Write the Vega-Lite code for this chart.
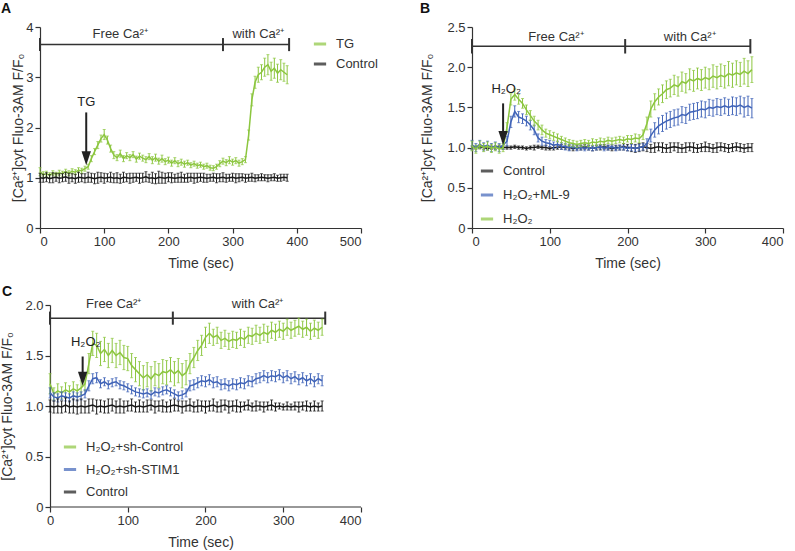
{
 "$schema": "https://vega.github.io/schema/vega-lite/v6.json",
 "padding": {"left": 0, "top": 2, "right": 2, "bottom": 2},
 "background": "white",
 "config": {
  "font": "Liberation Sans",
  "view": {"stroke": null},
  "axis": {"grid": false, "domainColor": "#333", "tickColor": "#333", "labelColor": "#333", "titleColor": "#333", "labelFontSize": 13, "titleFontSize": 14, "titleFontWeight": "normal", "tickSize": 5, "labelPadding": 2, "domainWidth": 1.2, "tickWidth": 1.2},
  "axisX": {"titlePadding": 8},
  "axisY": {"minExtent": 0},
  "title": {"fontSize": 14, "fontWeight": "bold", "color": "#111", "anchor": "start", "frame": "group"}
 },
 "datasets": {
  "A_TG": [
   {"t":0,"y":1.12,"e":0.08},{"t":5,"y":1.06,"e":0.06},{"t":10,"y":1.08,"e":0.05},{"t":15,"y":1.05,"e":0.05},{"t":20,"y":1.09,"e":0.05},{"t":25,"y":1.07,"e":0.04},{"t":30,"y":1.1,"e":0.05},{"t":35,"y":1.08,"e":0.05},{"t":40,"y":1.12,"e":0.05},{"t":45,"y":1.09,"e":0.05},{"t":50,"y":1.13,"e":0.05},{"t":55,"y":1.11,"e":0.05},{"t":60,"y":1.15,"e":0.05},{"t":65,"y":1.14,"e":0.05},{"t":70,"y":1.18,"e":0.05},{"t":75,"y":1.22,"e":0.05},{"t":80,"y":1.38,"e":0.06},{"t":85,"y":1.52,"e":0.06},{"t":90,"y":1.65,"e":0.07},{"t":95,"y":1.78,"e":0.07},{"t":100,"y":1.86,"e":0.1},{"t":105,"y":1.75,"e":0.08},{"t":110,"y":1.58,"e":0.07},{"t":115,"y":1.45,"e":0.07},{"t":120,"y":1.4,"e":0.06},{"t":125,"y":1.48,"e":0.07},{"t":130,"y":1.38,"e":0.06},{"t":135,"y":1.44,"e":0.06},{"t":140,"y":1.4,"e":0.06},{"t":145,"y":1.46,"e":0.06},{"t":150,"y":1.37,"e":0.06},{"t":155,"y":1.43,"e":0.06},{"t":160,"y":1.39,"e":0.06},{"t":165,"y":1.36,"e":0.06},{"t":170,"y":1.42,"e":0.06},{"t":175,"y":1.35,"e":0.07},{"t":180,"y":1.4,"e":0.07},{"t":185,"y":1.33,"e":0.06},{"t":190,"y":1.38,"e":0.07},{"t":195,"y":1.32,"e":0.06},{"t":200,"y":1.35,"e":0.06},{"t":205,"y":1.29,"e":0.06},{"t":210,"y":1.34,"e":0.06},{"t":215,"y":1.28,"e":0.06},{"t":220,"y":1.31,"e":0.06},{"t":225,"y":1.27,"e":0.06},{"t":230,"y":1.3,"e":0.05},{"t":235,"y":1.25,"e":0.05},{"t":240,"y":1.28,"e":0.05},{"t":245,"y":1.24,"e":0.05},{"t":250,"y":1.26,"e":0.05},{"t":255,"y":1.22,"e":0.05},{"t":260,"y":1.24,"e":0.05},{"t":265,"y":1.2,"e":0.05},{"t":270,"y":1.19,"e":0.05},{"t":275,"y":1.22,"e":0.05},{"t":280,"y":1.28,"e":0.06},{"t":285,"y":1.33,"e":0.06},{"t":290,"y":1.3,"e":0.06},{"t":295,"y":1.35,"e":0.07},{"t":300,"y":1.31,"e":0.06},{"t":305,"y":1.34,"e":0.06},{"t":310,"y":1.29,"e":0.06},{"t":315,"y":1.32,"e":0.06},{"t":320,"y":1.36,"e":0.06},{"t":325,"y":1.85,"e":0.1},{"t":330,"y":2.55,"e":0.12},{"t":335,"y":2.9,"e":0.12},{"t":340,"y":3.05,"e":0.15},{"t":345,"y":3.1,"e":0.15},{"t":350,"y":3.2,"e":0.18},{"t":355,"y":3.25,"e":0.2},{"t":360,"y":3.12,"e":0.18},{"t":365,"y":3.18,"e":0.2},{"t":370,"y":3.08,"e":0.18},{"t":375,"y":3.15,"e":0.2},{"t":380,"y":3.1,"e":0.18},{"t":385,"y":3.05,"e":0.18}
  ],
  "A_C": [
   {"t":0,"y":1.0,"e":0.09},{"t":5,"y":0.99,"e":0.08},{"t":10,"y":1.01,"e":0.09},{"t":15,"y":0.98,"e":0.08},{"t":20,"y":1.0,"e":0.1},{"t":25,"y":1.01,"e":0.08},{"t":30,"y":0.99,"e":0.09},{"t":35,"y":1.0,"e":0.08},{"t":40,"y":1.02,"e":0.09},{"t":45,"y":0.99,"e":0.1},{"t":50,"y":1.0,"e":0.08},{"t":55,"y":0.98,"e":0.09},{"t":60,"y":1.01,"e":0.1},{"t":65,"y":1.0,"e":0.08},{"t":70,"y":0.99,"e":0.09},{"t":75,"y":1.01,"e":0.1},{"t":80,"y":1.0,"e":0.09},{"t":85,"y":0.98,"e":0.1},{"t":90,"y":1.0,"e":0.11},{"t":95,"y":1.01,"e":0.09},{"t":100,"y":0.99,"e":0.1},{"t":105,"y":1.0,"e":0.08},{"t":110,"y":1.01,"e":0.1},{"t":115,"y":0.99,"e":0.09},{"t":120,"y":1.0,"e":0.1},{"t":125,"y":0.98,"e":0.09},{"t":130,"y":1.01,"e":0.1},{"t":135,"y":1.0,"e":0.08},{"t":140,"y":0.99,"e":0.1},{"t":145,"y":1.0,"e":0.09},{"t":150,"y":1.01,"e":0.08},{"t":155,"y":0.99,"e":0.1},{"t":160,"y":1.0,"e":0.09},{"t":165,"y":1.02,"e":0.1},{"t":170,"y":0.99,"e":0.08},{"t":175,"y":1.0,"e":0.11},{"t":180,"y":0.98,"e":0.1},{"t":185,"y":1.01,"e":0.12},{"t":190,"y":1.0,"e":0.11},{"t":195,"y":0.99,"e":0.1},{"t":200,"y":1.01,"e":0.09},{"t":205,"y":1.0,"e":0.1},{"t":210,"y":0.99,"e":0.08},{"t":215,"y":1.0,"e":0.09},{"t":220,"y":1.01,"e":0.1},{"t":225,"y":0.99,"e":0.08},{"t":230,"y":1.0,"e":0.09},{"t":235,"y":1.01,"e":0.08},{"t":240,"y":0.99,"e":0.1},{"t":245,"y":1.0,"e":0.09},{"t":250,"y":1.01,"e":0.08},{"t":255,"y":1.0,"e":0.09},{"t":260,"y":0.99,"e":0.08},{"t":265,"y":1.0,"e":0.07},{"t":270,"y":1.01,"e":0.08},{"t":275,"y":0.99,"e":0.09},{"t":280,"y":1.0,"e":0.08},{"t":285,"y":1.01,"e":0.09},{"t":290,"y":0.99,"e":0.08},{"t":295,"y":1.0,"e":0.07},{"t":300,"y":1.01,"e":0.08},{"t":305,"y":0.99,"e":0.09},{"t":310,"y":1.0,"e":0.08},{"t":315,"y":1.01,"e":0.07},{"t":320,"y":0.99,"e":0.08},{"t":325,"y":1.0,"e":0.07},{"t":330,"y":1.01,"e":0.08},{"t":335,"y":0.99,"e":0.07},{"t":340,"y":1.0,"e":0.06},{"t":345,"y":1.01,"e":0.07},{"t":350,"y":1.0,"e":0.06},{"t":355,"y":0.99,"e":0.07},{"t":360,"y":1.0,"e":0.06},{"t":365,"y":1.01,"e":0.07},{"t":370,"y":0.99,"e":0.06},{"t":375,"y":1.0,"e":0.07},{"t":380,"y":1.01,"e":0.06},{"t":385,"y":1.0,"e":0.07}
  ],
  "B_H": [
   {"t":0,"y":1.02,"e":0.06},{"t":5,"y":0.98,"e":0.05},{"t":10,"y":1.03,"e":0.05},{"t":15,"y":1.0,"e":0.05},{"t":20,"y":1.02,"e":0.05},{"t":25,"y":0.99,"e":0.05},{"t":30,"y":1.01,"e":0.05},{"t":35,"y":0.98,"e":0.05},{"t":40,"y":1.0,"e":0.05},{"t":45,"y":1.25,"e":0.06},{"t":50,"y":1.6,"e":0.07},{"t":55,"y":1.66,"e":0.07},{"t":60,"y":1.6,"e":0.06},{"t":65,"y":1.55,"e":0.06},{"t":70,"y":1.47,"e":0.06},{"t":75,"y":1.4,"e":0.06},{"t":80,"y":1.33,"e":0.06},{"t":85,"y":1.28,"e":0.06},{"t":90,"y":1.22,"e":0.06},{"t":95,"y":1.18,"e":0.05},{"t":100,"y":1.16,"e":0.05},{"t":105,"y":1.14,"e":0.05},{"t":110,"y":1.12,"e":0.05},{"t":115,"y":1.1,"e":0.04},{"t":120,"y":1.08,"e":0.04},{"t":125,"y":1.06,"e":0.04},{"t":130,"y":1.05,"e":0.04},{"t":135,"y":1.04,"e":0.04},{"t":140,"y":1.05,"e":0.04},{"t":145,"y":1.06,"e":0.04},{"t":150,"y":1.05,"e":0.04},{"t":155,"y":1.07,"e":0.04},{"t":160,"y":1.06,"e":0.04},{"t":165,"y":1.08,"e":0.04},{"t":170,"y":1.07,"e":0.04},{"t":175,"y":1.09,"e":0.04},{"t":180,"y":1.08,"e":0.04},{"t":185,"y":1.09,"e":0.04},{"t":190,"y":1.1,"e":0.04},{"t":195,"y":1.09,"e":0.04},{"t":200,"y":1.11,"e":0.04},{"t":205,"y":1.1,"e":0.05},{"t":210,"y":1.12,"e":0.05},{"t":215,"y":1.11,"e":0.05},{"t":220,"y":1.16,"e":0.06},{"t":225,"y":1.3,"e":0.08},{"t":230,"y":1.48,"e":0.1},{"t":235,"y":1.57,"e":0.1},{"t":240,"y":1.63,"e":0.1},{"t":245,"y":1.67,"e":0.11},{"t":250,"y":1.72,"e":0.11},{"t":255,"y":1.74,"e":0.11},{"t":260,"y":1.78,"e":0.12},{"t":265,"y":1.76,"e":0.12},{"t":270,"y":1.82,"e":0.12},{"t":275,"y":1.8,"e":0.12},{"t":280,"y":1.85,"e":0.13},{"t":285,"y":1.83,"e":0.13},{"t":290,"y":1.86,"e":0.13},{"t":295,"y":1.84,"e":0.13},{"t":300,"y":1.87,"e":0.13},{"t":305,"y":1.85,"e":0.13},{"t":310,"y":1.89,"e":0.14},{"t":315,"y":1.87,"e":0.14},{"t":320,"y":1.9,"e":0.14},{"t":325,"y":1.88,"e":0.14},{"t":330,"y":1.92,"e":0.15},{"t":335,"y":1.9,"e":0.15},{"t":340,"y":1.93,"e":0.15},{"t":345,"y":1.91,"e":0.15},{"t":350,"y":1.95,"e":0.16},{"t":355,"y":1.92,"e":0.16},{"t":360,"y":1.97,"e":0.16}
  ],
  "B_M": [
   {"t":0,"y":1.03,"e":0.06},{"t":5,"y":1.0,"e":0.05},{"t":10,"y":1.04,"e":0.05},{"t":15,"y":1.01,"e":0.05},{"t":20,"y":1.03,"e":0.05},{"t":25,"y":1.0,"e":0.05},{"t":30,"y":1.02,"e":0.05},{"t":35,"y":1.0,"e":0.05},{"t":40,"y":1.03,"e":0.05},{"t":45,"y":1.08,"e":0.06},{"t":50,"y":1.32,"e":0.07},{"t":55,"y":1.45,"e":0.07},{"t":60,"y":1.38,"e":0.07},{"t":65,"y":1.36,"e":0.06},{"t":70,"y":1.33,"e":0.06},{"t":75,"y":1.28,"e":0.06},{"t":80,"y":1.22,"e":0.06},{"t":85,"y":1.12,"e":0.05},{"t":90,"y":1.08,"e":0.05},{"t":95,"y":1.06,"e":0.04},{"t":100,"y":1.05,"e":0.04},{"t":105,"y":1.03,"e":0.04},{"t":110,"y":1.04,"e":0.04},{"t":115,"y":1.02,"e":0.04},{"t":120,"y":1.01,"e":0.04},{"t":125,"y":1.0,"e":0.04},{"t":130,"y":1.01,"e":0.03},{"t":135,"y":0.99,"e":0.03},{"t":140,"y":1.0,"e":0.03},{"t":145,"y":0.99,"e":0.03},{"t":150,"y":1.0,"e":0.03},{"t":155,"y":0.99,"e":0.03},{"t":160,"y":1.0,"e":0.03},{"t":165,"y":1.01,"e":0.03},{"t":170,"y":0.99,"e":0.03},{"t":175,"y":1.0,"e":0.03},{"t":180,"y":1.01,"e":0.03},{"t":185,"y":0.99,"e":0.03},{"t":190,"y":1.0,"e":0.03},{"t":195,"y":1.0,"e":0.03},{"t":200,"y":0.99,"e":0.03},{"t":205,"y":1.0,"e":0.04},{"t":210,"y":0.99,"e":0.04},{"t":215,"y":1.0,"e":0.04},{"t":220,"y":1.01,"e":0.04},{"t":225,"y":1.05,"e":0.06},{"t":230,"y":1.15,"e":0.08},{"t":235,"y":1.22,"e":0.09},{"t":240,"y":1.27,"e":0.1},{"t":245,"y":1.3,"e":0.1},{"t":250,"y":1.33,"e":0.1},{"t":255,"y":1.35,"e":0.1},{"t":260,"y":1.37,"e":0.1},{"t":265,"y":1.38,"e":0.1},{"t":270,"y":1.41,"e":0.1},{"t":275,"y":1.4,"e":0.1},{"t":280,"y":1.44,"e":0.1},{"t":285,"y":1.45,"e":0.1},{"t":290,"y":1.46,"e":0.1},{"t":295,"y":1.48,"e":0.1},{"t":300,"y":1.47,"e":0.1},{"t":305,"y":1.5,"e":0.1},{"t":310,"y":1.49,"e":0.1},{"t":315,"y":1.51,"e":0.1},{"t":320,"y":1.5,"e":0.1},{"t":325,"y":1.52,"e":0.1},{"t":330,"y":1.5,"e":0.1},{"t":335,"y":1.52,"e":0.11},{"t":340,"y":1.51,"e":0.11},{"t":345,"y":1.53,"e":0.11},{"t":350,"y":1.5,"e":0.12},{"t":355,"y":1.52,"e":0.12},{"t":360,"y":1.49,"e":0.12}
  ],
  "B_C": [
   {"t":0,"y":1.0,"e":0.02},{"t":5,"y":1.0,"e":0.02},{"t":10,"y":1.01,"e":0.02},{"t":15,"y":1.0,"e":0.02},{"t":20,"y":0.99,"e":0.02},{"t":25,"y":1.0,"e":0.02},{"t":30,"y":1.0,"e":0.02},{"t":35,"y":1.01,"e":0.02},{"t":40,"y":1.0,"e":0.02},{"t":45,"y":1.0,"e":0.02},{"t":50,"y":1.0,"e":0.02},{"t":55,"y":1.01,"e":0.02},{"t":60,"y":1.0,"e":0.02},{"t":65,"y":1.0,"e":0.02},{"t":70,"y":0.99,"e":0.02},{"t":75,"y":1.0,"e":0.02},{"t":80,"y":1.0,"e":0.03},{"t":85,"y":1.01,"e":0.02},{"t":90,"y":1.0,"e":0.02},{"t":95,"y":1.0,"e":0.03},{"t":100,"y":0.99,"e":0.02},{"t":105,"y":1.0,"e":0.03},{"t":110,"y":1.0,"e":0.02},{"t":115,"y":1.01,"e":0.03},{"t":120,"y":1.0,"e":0.02},{"t":125,"y":1.0,"e":0.03},{"t":130,"y":0.99,"e":0.03},{"t":135,"y":1.0,"e":0.03},{"t":140,"y":1.0,"e":0.03},{"t":145,"y":1.01,"e":0.03},{"t":150,"y":1.0,"e":0.03},{"t":155,"y":0.99,"e":0.03},{"t":160,"y":1.0,"e":0.03},{"t":165,"y":1.0,"e":0.03},{"t":170,"y":1.01,"e":0.03},{"t":175,"y":1.0,"e":0.03},{"t":180,"y":0.99,"e":0.03},{"t":185,"y":1.0,"e":0.03},{"t":190,"y":1.0,"e":0.03},{"t":195,"y":1.01,"e":0.04},{"t":200,"y":1.0,"e":0.04},{"t":205,"y":1.0,"e":0.05},{"t":210,"y":0.99,"e":0.05},{"t":215,"y":1.0,"e":0.05},{"t":220,"y":1.01,"e":0.05},{"t":225,"y":1.0,"e":0.05},{"t":230,"y":0.99,"e":0.05},{"t":235,"y":1.0,"e":0.06},{"t":240,"y":1.01,"e":0.05},{"t":245,"y":1.0,"e":0.06},{"t":250,"y":0.99,"e":0.05},{"t":255,"y":1.0,"e":0.06},{"t":260,"y":1.01,"e":0.05},{"t":265,"y":1.0,"e":0.06},{"t":270,"y":0.99,"e":0.05},{"t":275,"y":1.0,"e":0.06},{"t":280,"y":1.01,"e":0.05},{"t":285,"y":1.0,"e":0.06},{"t":290,"y":0.99,"e":0.05},{"t":295,"y":1.0,"e":0.05},{"t":300,"y":1.01,"e":0.06},{"t":305,"y":1.0,"e":0.05},{"t":310,"y":0.99,"e":0.05},{"t":315,"y":1.0,"e":0.06},{"t":320,"y":1.01,"e":0.05},{"t":325,"y":1.0,"e":0.05},{"t":330,"y":0.99,"e":0.05},{"t":335,"y":1.0,"e":0.05},{"t":340,"y":1.01,"e":0.05},{"t":345,"y":1.0,"e":0.05},{"t":350,"y":0.99,"e":0.05},{"t":355,"y":1.0,"e":0.05},{"t":360,"y":1.0,"e":0.05}
  ],
  "C_H": [
   {"t":0,"y":1.22,"e":0.1},{"t":5,"y":1.12,"e":0.06},{"t":10,"y":1.15,"e":0.07},{"t":15,"y":1.13,"e":0.06},{"t":20,"y":1.16,"e":0.07},{"t":25,"y":1.14,"e":0.06},{"t":30,"y":1.17,"e":0.07},{"t":35,"y":1.15,"e":0.06},{"t":40,"y":1.18,"e":0.07},{"t":45,"y":1.22,"e":0.07},{"t":50,"y":1.42,"e":0.1},{"t":55,"y":1.62,"e":0.12},{"t":60,"y":1.6,"e":0.12},{"t":65,"y":1.52,"e":0.12},{"t":70,"y":1.56,"e":0.12},{"t":75,"y":1.5,"e":0.12},{"t":80,"y":1.55,"e":0.12},{"t":85,"y":1.5,"e":0.12},{"t":90,"y":1.53,"e":0.12},{"t":95,"y":1.48,"e":0.12},{"t":100,"y":1.47,"e":0.12},{"t":105,"y":1.4,"e":0.12},{"t":110,"y":1.36,"e":0.12},{"t":115,"y":1.32,"e":0.12},{"t":120,"y":1.28,"e":0.12},{"t":125,"y":1.31,"e":0.12},{"t":130,"y":1.27,"e":0.12},{"t":135,"y":1.32,"e":0.12},{"t":140,"y":1.3,"e":0.12},{"t":145,"y":1.34,"e":0.12},{"t":150,"y":1.33,"e":0.12},{"t":155,"y":1.36,"e":0.12},{"t":160,"y":1.32,"e":0.12},{"t":165,"y":1.35,"e":0.12},{"t":170,"y":1.3,"e":0.12},{"t":175,"y":1.33,"e":0.12},{"t":180,"y":1.42,"e":0.1},{"t":185,"y":1.48,"e":0.1},{"t":190,"y":1.55,"e":0.1},{"t":195,"y":1.6,"e":0.1},{"t":200,"y":1.68,"e":0.1},{"t":205,"y":1.72,"e":0.1},{"t":210,"y":1.68,"e":0.08},{"t":215,"y":1.7,"e":0.08},{"t":220,"y":1.65,"e":0.08},{"t":225,"y":1.67,"e":0.08},{"t":230,"y":1.64,"e":0.08},{"t":235,"y":1.66,"e":0.08},{"t":240,"y":1.65,"e":0.08},{"t":245,"y":1.68,"e":0.08},{"t":250,"y":1.66,"e":0.08},{"t":255,"y":1.7,"e":0.08},{"t":260,"y":1.69,"e":0.08},{"t":265,"y":1.72,"e":0.08},{"t":270,"y":1.7,"e":0.08},{"t":275,"y":1.73,"e":0.08},{"t":280,"y":1.71,"e":0.08},{"t":285,"y":1.75,"e":0.08},{"t":290,"y":1.73,"e":0.08},{"t":295,"y":1.76,"e":0.08},{"t":300,"y":1.74,"e":0.08},{"t":305,"y":1.78,"e":0.08},{"t":310,"y":1.75,"e":0.08},{"t":315,"y":1.77,"e":0.08},{"t":320,"y":1.79,"e":0.08},{"t":325,"y":1.76,"e":0.08},{"t":330,"y":1.78,"e":0.08},{"t":335,"y":1.74,"e":0.08},{"t":340,"y":1.77,"e":0.08},{"t":345,"y":1.75,"e":0.08},{"t":350,"y":1.78,"e":0.08}
  ],
  "C_S": [
   {"t":0,"y":1.13,"e":0.05},{"t":5,"y":1.09,"e":0.04},{"t":10,"y":1.08,"e":0.04},{"t":15,"y":1.1,"e":0.04},{"t":20,"y":1.09,"e":0.04},{"t":25,"y":1.08,"e":0.04},{"t":30,"y":1.1,"e":0.04},{"t":35,"y":1.09,"e":0.04},{"t":40,"y":1.1,"e":0.04},{"t":45,"y":1.12,"e":0.04},{"t":50,"y":1.2,"e":0.05},{"t":55,"y":1.27,"e":0.05},{"t":60,"y":1.28,"e":0.05},{"t":65,"y":1.22,"e":0.04},{"t":70,"y":1.24,"e":0.04},{"t":75,"y":1.21,"e":0.04},{"t":80,"y":1.23,"e":0.04},{"t":85,"y":1.24,"e":0.04},{"t":90,"y":1.21,"e":0.04},{"t":95,"y":1.2,"e":0.04},{"t":100,"y":1.18,"e":0.04},{"t":105,"y":1.16,"e":0.04},{"t":110,"y":1.14,"e":0.04},{"t":115,"y":1.13,"e":0.04},{"t":120,"y":1.12,"e":0.04},{"t":125,"y":1.13,"e":0.04},{"t":130,"y":1.11,"e":0.04},{"t":135,"y":1.14,"e":0.04},{"t":140,"y":1.13,"e":0.04},{"t":145,"y":1.15,"e":0.04},{"t":150,"y":1.16,"e":0.04},{"t":155,"y":1.14,"e":0.04},{"t":160,"y":1.12,"e":0.04},{"t":165,"y":1.1,"e":0.04},{"t":170,"y":1.11,"e":0.04},{"t":175,"y":1.13,"e":0.04},{"t":180,"y":1.2,"e":0.05},{"t":185,"y":1.21,"e":0.05},{"t":190,"y":1.23,"e":0.05},{"t":195,"y":1.25,"e":0.05},{"t":200,"y":1.24,"e":0.05},{"t":205,"y":1.26,"e":0.05},{"t":210,"y":1.23,"e":0.05},{"t":215,"y":1.24,"e":0.05},{"t":220,"y":1.21,"e":0.05},{"t":225,"y":1.22,"e":0.05},{"t":230,"y":1.2,"e":0.05},{"t":235,"y":1.22,"e":0.05},{"t":240,"y":1.21,"e":0.05},{"t":245,"y":1.23,"e":0.05},{"t":250,"y":1.22,"e":0.05},{"t":255,"y":1.25,"e":0.05},{"t":260,"y":1.24,"e":0.05},{"t":265,"y":1.27,"e":0.05},{"t":270,"y":1.28,"e":0.05},{"t":275,"y":1.3,"e":0.05},{"t":280,"y":1.28,"e":0.05},{"t":285,"y":1.3,"e":0.05},{"t":290,"y":1.29,"e":0.05},{"t":295,"y":1.31,"e":0.05},{"t":300,"y":1.28,"e":0.05},{"t":305,"y":1.3,"e":0.05},{"t":310,"y":1.27,"e":0.05},{"t":315,"y":1.29,"e":0.05},{"t":320,"y":1.26,"e":0.05},{"t":325,"y":1.28,"e":0.05},{"t":330,"y":1.25,"e":0.05},{"t":335,"y":1.27,"e":0.05},{"t":340,"y":1.24,"e":0.05},{"t":345,"y":1.27,"e":0.05},{"t":350,"y":1.25,"e":0.05}
  ],
  "C_C": [
   {"t":0,"y":1.0,"e":0.06},{"t":5,"y":0.99,"e":0.06},{"t":10,"y":1.0,"e":0.07},{"t":15,"y":0.99,"e":0.06},{"t":20,"y":1.01,"e":0.07},{"t":25,"y":0.99,"e":0.06},{"t":30,"y":1.0,"e":0.07},{"t":35,"y":0.99,"e":0.07},{"t":40,"y":1.0,"e":0.07},{"t":45,"y":0.99,"e":0.06},{"t":50,"y":1.0,"e":0.07},{"t":55,"y":1.01,"e":0.06},{"t":60,"y":0.99,"e":0.07},{"t":65,"y":1.0,"e":0.06},{"t":70,"y":0.99,"e":0.06},{"t":75,"y":1.0,"e":0.07},{"t":80,"y":1.01,"e":0.06},{"t":85,"y":0.99,"e":0.06},{"t":90,"y":1.0,"e":0.07},{"t":95,"y":0.99,"e":0.06},{"t":100,"y":1.0,"e":0.05},{"t":105,"y":1.01,"e":0.06},{"t":110,"y":0.99,"e":0.05},{"t":115,"y":1.0,"e":0.06},{"t":120,"y":0.99,"e":0.05},{"t":125,"y":1.0,"e":0.06},{"t":130,"y":1.01,"e":0.05},{"t":135,"y":0.99,"e":0.06},{"t":140,"y":1.0,"e":0.05},{"t":145,"y":1.0,"e":0.06},{"t":150,"y":0.99,"e":0.05},{"t":155,"y":1.0,"e":0.06},{"t":160,"y":1.01,"e":0.06},{"t":165,"y":1.0,"e":0.05},{"t":170,"y":0.99,"e":0.06},{"t":175,"y":1.0,"e":0.05},{"t":180,"y":1.01,"e":0.06},{"t":185,"y":0.99,"e":0.05},{"t":190,"y":1.0,"e":0.06},{"t":195,"y":1.0,"e":0.05},{"t":200,"y":0.99,"e":0.06},{"t":205,"y":1.0,"e":0.05},{"t":210,"y":1.01,"e":0.06},{"t":215,"y":0.99,"e":0.05},{"t":220,"y":1.0,"e":0.06},{"t":225,"y":1.01,"e":0.05},{"t":230,"y":0.99,"e":0.06},{"t":235,"y":1.0,"e":0.05},{"t":240,"y":1.0,"e":0.06},{"t":245,"y":0.99,"e":0.05},{"t":250,"y":1.0,"e":0.04},{"t":255,"y":1.01,"e":0.05},{"t":260,"y":0.99,"e":0.04},{"t":265,"y":1.0,"e":0.05},{"t":270,"y":1.0,"e":0.04},{"t":275,"y":0.99,"e":0.05},{"t":280,"y":1.0,"e":0.04},{"t":285,"y":1.01,"e":0.05},{"t":290,"y":0.99,"e":0.04},{"t":295,"y":1.0,"e":0.03},{"t":300,"y":0.99,"e":0.03},{"t":305,"y":1.0,"e":0.04},{"t":310,"y":0.99,"e":0.03},{"t":315,"y":1.0,"e":0.04},{"t":320,"y":0.99,"e":0.05},{"t":325,"y":1.0,"e":0.04},{"t":330,"y":1.0,"e":0.05},{"t":335,"y":0.99,"e":0.04},{"t":340,"y":1.0,"e":0.05},{"t":345,"y":0.99,"e":0.04},{"t":350,"y":1.0,"e":0.05}
  ]
 },
 "resolve": {"scale": {"x": "independent", "y": "independent", "color": "independent"}, "axis": {"x": "independent", "y": "independent"}, "legend": {"color": "independent"}},
 "columns": 2,
 "align": "none",
 "spacing": {"row": 14, "column": 42},
 "concat": [
  {
   "width": 321, "height": 201,
   "title": {"text": "A", "dx": -39, "offset": 5},
   "encoding": {
    "x": {"field": "t", "type": "quantitative", "title": "Time (sec)", "scale": {"domain": [0, 500], "nice": false}, "axis": {"values": [0, 100, 200, 300, 400, 500]}},
    "y": {"field": "y", "type": "quantitative", "title": "[Ca²⁺]cyt Fluo-3AM F/F₀", "scale": {"domain": [0, 4], "nice": false}, "axis": {"values": [0, 1, 2, 3, 4], "format": "d", "minExtent": 0, "titlePadding": 0}}
   },
   "layer": [
    {"data": {"values": [{"t": 0, "t2": 388, "y": 3.65}]},
     "mark": {"type": "rule", "color": "#333", "strokeWidth": 1.5},
     "encoding": {"x2": {"field": "t2"}}},
    {"data": {"values": [{"t": 0, "y": 3.52, "y2": 3.78}, {"t": 285, "y": 3.52, "y2": 3.78}, {"t": 388, "y": 3.52, "y2": 3.78}]},
     "mark": {"type": "rule", "color": "#333", "strokeWidth": 2},
     "encoding": {"y2": {"field": "y2"}}},
    {"data": {"values": [{"t": 125, "y": 3.87, "label": "Free Ca²⁺"}, {"t": 340, "y": 3.87, "label": "with Ca²⁺"}]},
     "mark": {"type": "text", "fontSize": 13, "color": "#333"},
     "encoding": {"text": {"field": "label"}}},
    {"data": {"name": "A_TG"},
     "mark": {"type": "errorbar", "ticks": {"size": 3}, "thickness": 1},
     "encoding": {"yError": {"field": "e"},
      "color": {"datum": "TG", "type": "nominal", "scale": {"domain": ["TG", "Control"], "range": ["#8cc63f", "#1a1a1a"]},
       "legend": {"title": null, "orient": "none", "legendX": 272, "legendY": 10, "symbolType": "stroke", "symbolStrokeWidth": 3, "symbolSize": 150, "labelFontSize": 13, "labelColor": "#333", "clipHeight": 14, "rowPadding": 6, "labelOffset": 8, "padding": 0}}}},
    {"data": {"name": "A_TG"}, "mark": {"type": "line", "strokeWidth": 1.5},
     "encoding": {"color": {"datum": "TG", "type": "nominal"}}},
    {"data": {"name": "A_C"},
     "mark": {"type": "errorbar", "ticks": {"size": 3}, "thickness": 1},
     "encoding": {"yError": {"field": "e"}, "color": {"datum": "Control", "type": "nominal"}}},
    {"data": {"name": "A_C"}, "mark": {"type": "line", "strokeWidth": 1.5},
     "encoding": {"color": {"datum": "Control", "type": "nominal"}}},
    {"data": {"values": [{"t": 72, "y": 2.3, "y2": 1.45}]},
     "mark": {"type": "rule", "color": "#222", "strokeWidth": 2},
     "encoding": {"y2": {"field": "y2"}}},
    {"data": {"values": [{"t": 72, "y": 1.39}]},
     "mark": {"type": "point", "shape": "M-0.67,-1L0.67,-1L0,1Z", "size": 196, "filled": true, "color": "#222", "opacity": 1}},
    {"data": {"values": [{"t": 72, "y": 2.5, "label": "TG"}]},
     "mark": {"type": "text", "fontSize": 13, "color": "#222"},
     "encoding": {"text": {"field": "label"}}}
   ]
  },
  {
   "width": 311, "height": 201,
   "title": {"text": "B", "dx": -52, "offset": 5},
   "encoding": {
    "x": {"field": "t", "type": "quantitative", "title": "Time (sec)", "scale": {"domain": [0, 400], "nice": false}, "axis": {"values": [0, 100, 200, 300, 400]}},
    "y": {"field": "y", "type": "quantitative", "title": "[Ca²⁺]cyt Fluo-3AM F/F₀", "scale": {"domain": [0, 2.5], "nice": false}, "axis": {"values": [0, 0.5, 1, 1.5, 2, 2.5], "labelExpr": "datum.value == 0 ? '0' : format(datum.value, '.1f')", "minExtent": 0, "titlePadding": 12}}
   },
   "layer": [
    {"data": {"values": [{"t": 0, "t2": 358, "y": 2.26}]},
     "mark": {"type": "rule", "color": "#333", "strokeWidth": 1.5},
     "encoding": {"x2": {"field": "t2"}}},
    {"data": {"values": [{"t": 0, "y": 2.17, "y2": 2.35}, {"t": 197, "y": 2.17, "y2": 2.35}, {"t": 358, "y": 2.17, "y2": 2.35}]},
     "mark": {"type": "rule", "color": "#333", "strokeWidth": 2},
     "encoding": {"y2": {"field": "y2"}}},
    {"data": {"values": [{"t": 108, "y": 2.38, "label": "Free Ca²⁺"}, {"t": 280, "y": 2.38, "label": "with Ca²⁺"}]},
     "mark": {"type": "text", "fontSize": 13, "color": "#333"},
     "encoding": {"text": {"field": "label"}}},
    {"data": {"name": "B_C"},
     "mark": {"type": "errorbar", "ticks": {"size": 3}, "thickness": 1},
     "encoding": {"yError": {"field": "e"},
      "color": {"datum": "Control", "type": "nominal", "scale": {"domain": ["Control", "H₂O₂+ML-9", "H₂O₂"], "range": ["#1a1a1a", "#4064b8", "#8cc63f"]},
       "legend": {"title": null, "orient": "none", "legendX": 7, "legendY": 137, "symbolType": "stroke", "symbolStrokeWidth": 3, "symbolSize": 150, "labelFontSize": 13, "labelColor": "#333", "clipHeight": 14, "rowPadding": 10, "labelOffset": 8, "padding": 0}}}},
    {"data": {"name": "B_C"}, "mark": {"type": "line", "strokeWidth": 1.5},
     "encoding": {"color": {"datum": "Control", "type": "nominal"}}},
    {"data": {"name": "B_M"},
     "mark": {"type": "errorbar", "ticks": {"size": 3}, "thickness": 1},
     "encoding": {"yError": {"field": "e"}, "color": {"datum": "H₂O₂+ML-9", "type": "nominal"}}},
    {"data": {"name": "B_M"}, "mark": {"type": "line", "strokeWidth": 1.5},
     "encoding": {"color": {"datum": "H₂O₂+ML-9", "type": "nominal"}}},
    {"data": {"name": "B_H"},
     "mark": {"type": "errorbar", "ticks": {"size": 3}, "thickness": 1},
     "encoding": {"yError": {"field": "e"}, "color": {"datum": "H₂O₂", "type": "nominal"}}},
    {"data": {"name": "B_H"}, "mark": {"type": "line", "strokeWidth": 1.5},
     "encoding": {"color": {"datum": "H₂O₂", "type": "nominal"}}},
    {"data": {"values": [{"t": 40, "y": 1.55, "y2": 1.16}]},
     "mark": {"type": "rule", "color": "#222", "strokeWidth": 2},
     "encoding": {"y2": {"field": "y2"}}},
    {"data": {"values": [{"t": 40, "y": 1.12}]},
     "mark": {"type": "point", "shape": "M-0.67,-1L0.67,-1L0,1Z", "size": 196, "filled": true, "color": "#222", "opacity": 1}},
    {"data": {"values": [{"t": 44, "y": 1.73, "label": "H₂O₂"}]},
     "mark": {"type": "text", "fontSize": 13, "color": "#222"},
     "encoding": {"text": {"field": "label"}}}
   ]
  },
  {
   "width": 321, "height": 202,
   "title": {"text": "C", "dx": -38, "offset": -1},
   "encoding": {
    "x": {"field": "t", "type": "quantitative", "title": "Time (sec)", "scale": {"domain": [-12.86, 400], "nice": false, "zero": false}, "axis": {"values": [0, 100, 200, 300, 400], "domain": false}},
    "y": {"field": "y", "type": "quantitative", "title": "[Ca²⁺]cyt Fluo-3AM F/F₀", "scale": {"domain": [0, 2], "nice": false}, "axis": {"values": [0, 0.5, 1, 1.5, 2], "labelExpr": "datum.value == 0 ? '0' : format(datum.value, '.1f')", "minExtent": 0, "titlePadding": 10, "offset": -10}}
   },
   "layer": [
    {"data": {"values": [{"t": 0, "t2": 400, "y": 0}]},
     "mark": {"type": "rule", "color": "#333", "strokeWidth": 1.2},
     "encoding": {"x2": {"field": "t2"}}},
    {"data": {"values": [{"t": 0, "t2": 354, "y": 1.87}]},
     "mark": {"type": "rule", "color": "#333", "strokeWidth": 1.5},
     "encoding": {"x2": {"field": "t2"}}},
    {"data": {"values": [{"t": 0, "y": 1.805, "y2": 1.935}, {"t": 158, "y": 1.805, "y2": 1.935}, {"t": 354, "y": 1.805, "y2": 1.935}]},
     "mark": {"type": "rule", "color": "#333", "strokeWidth": 2},
     "encoding": {"y2": {"field": "y2"}}},
    {"data": {"values": [{"t": 82, "y": 2.01, "label": "Free Ca²⁺"}, {"t": 267, "y": 2.01, "label": "with Ca²⁺"}]},
     "mark": {"type": "text", "fontSize": 13, "color": "#333"},
     "encoding": {"text": {"field": "label"}}},
    {"data": {"name": "C_H"},
     "mark": {"type": "errorbar", "ticks": {"size": 3}, "thickness": 1},
     "encoding": {"yError": {"field": "e"},
      "color": {"datum": "H₂O₂+sh-Control", "type": "nominal", "scale": {"domain": ["H₂O₂+sh-Control", "H₂O₂+sh-STIM1", "Control"], "range": ["#8cc63f", "#4064b8", "#1a1a1a"]},
       "legend": {"title": null, "orient": "none", "legendX": 22, "legendY": 135, "symbolType": "stroke", "symbolStrokeWidth": 3, "symbolSize": 150, "labelFontSize": 13, "labelColor": "#333", "clipHeight": 14, "rowPadding": 8.5, "labelOffset": 8, "padding": 0}}}},
    {"data": {"name": "C_H"}, "mark": {"type": "line", "strokeWidth": 1.5},
     "encoding": {"color": {"datum": "H₂O₂+sh-Control", "type": "nominal"}}},
    {"data": {"name": "C_S"},
     "mark": {"type": "errorbar", "ticks": {"size": 3}, "thickness": 1},
     "encoding": {"yError": {"field": "e"}, "color": {"datum": "H₂O₂+sh-STIM1", "type": "nominal"}}},
    {"data": {"name": "C_S"}, "mark": {"type": "line", "strokeWidth": 1.5},
     "encoding": {"color": {"datum": "H₂O₂+sh-STIM1", "type": "nominal"}}},
    {"data": {"name": "C_C"},
     "mark": {"type": "errorbar", "ticks": {"size": 3}, "thickness": 1},
     "encoding": {"yError": {"field": "e"}, "color": {"datum": "Control", "type": "nominal"}}},
    {"data": {"name": "C_C"}, "mark": {"type": "line", "strokeWidth": 1.5},
     "encoding": {"color": {"datum": "Control", "type": "nominal"}}},
    {"data": {"values": [{"t": 42, "y": 1.49, "y2": 1.3}]},
     "mark": {"type": "rule", "color": "#222", "strokeWidth": 2},
     "encoding": {"y2": {"field": "y2"}}},
    {"data": {"values": [{"t": 42, "y": 1.27}]},
     "mark": {"type": "point", "shape": "M-0.67,-1L0.67,-1L0,1Z", "size": 196, "filled": true, "color": "#222", "opacity": 1}},
    {"data": {"values": [{"t": 46, "y": 1.63, "label": "H₂O₂"}]},
     "mark": {"type": "text", "fontSize": 13, "color": "#222"},
     "encoding": {"text": {"field": "label"}}}
   ]
  }
 ]
}
